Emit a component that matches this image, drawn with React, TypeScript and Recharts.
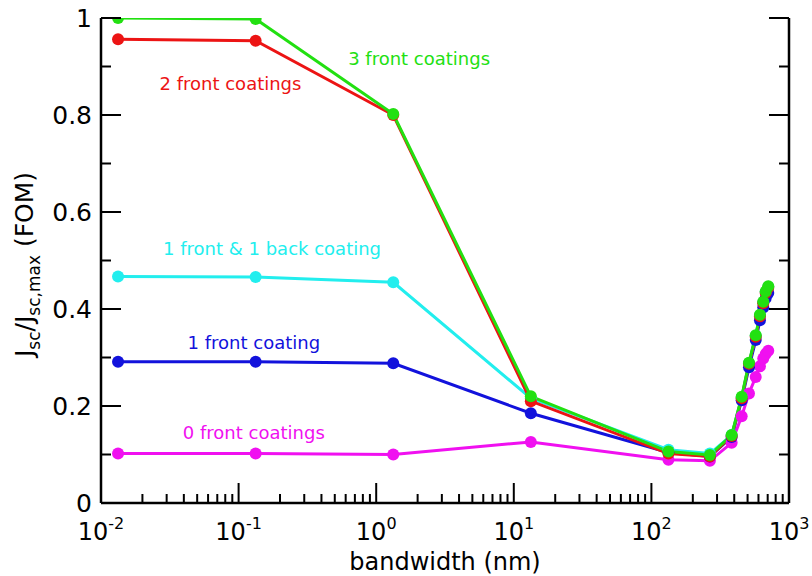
import { LineChart, Line, XAxis, YAxis, ReferenceDot } from "recharts";

// bandwidth (nm)
const bandwidth = [0.0133, 0.133, 1.33, 13.3, 133, 266, 383, 453, 512, 573, 615, 650, 677, 707];

const front0 = [0.102, 0.102, 0.100, 0.126, 0.089, 0.087, 0.124, 0.179, 0.226, 0.260, 0.282, 0.298, 0.307, 0.314];
const front1 = [0.291, 0.291, 0.288, 0.185, 0.104, 0.096, 0.136, 0.212, 0.280, 0.336, 0.377, 0.403, 0.422, 0.433];
const front1back1 = [0.467, 0.466, 0.455, 0.216, 0.110, 0.102, 0.140, 0.218, 0.288, 0.345, 0.387, 0.414, 0.435, 0.446];
const front2 = [0.956, 0.953, 0.800, 0.210, 0.102, 0.096, 0.138, 0.216, 0.287, 0.343, 0.385, 0.412, 0.433, 0.444];
const front3 = [1.0, 0.998, 0.802, 0.220, 0.106, 0.099, 0.140, 0.219, 0.289, 0.346, 0.388, 0.415, 0.436, 0.447];

const xMajor = [0.01, 0.1, 1, 10, 100, 1000];
const xMinorMult = [2, 3, 4, 5, 6, 7, 8, 9];
const yTicks = [0, 0.1, 0.2, 0.3, 0.4, 0.5, 0.6, 0.7, 0.8, 0.9, 1];
const yLabels: Record<string, string> = { "0": "0", "0.2": "0.2", "0.4": "0.4", "0.6": "0.6", "0.8": "0.8", "1": "1" };

const series = [
  { key: "f0", name: "0 front coatings", values: front0, color: "#f010f0", lx: 0.129, ly: 0.145 },
  { key: "f1", name: "1 front coating", values: front1, color: "#1212dc", lx: 0.129, ly: 0.33 },
  { key: "f1b1", name: "1 front & 1 back coating", values: front1back1, color: "#22eeee", lx: 0.175, ly: 0.524 },
  { key: "f2", name: "2 front coatings", values: front2, color: "#ec1414", lx: 0.0873, ly: 0.865 },
  { key: "f3", name: "3 front coatings", values: front3, color: "#22e011", lx: 2.05, ly: 0.917 },
];

const data = bandwidth.map((b, i) => {
  const row: Record<string, number> = { bw: b };
  series.forEach(s => { row[s.key] = s.values[i]; });
  return row;
});

const xTicks = [
  ...xMajor,
  ...xMajor.slice(0, -1).flatMap(d => xMinorMult.map(m => +(d * m).toPrecision(3))),
].sort((a, b) => a - b);

const FONT = "'DejaVu Sans', sans-serif";
const AX = "#000";

const isMajorX = (v: number) => Math.abs(Math.log10(v) - Math.round(Math.log10(v))) < 1e-6;
const isMajorY = (v: number) => yLabels[String(+v.toFixed(2))] !== undefined;

const BottomTick = (p: any) => {
  const { x, y, payload } = p;
  const v = payload.value;
  const major = isMajorX(v);
  return (
    <g>
      <line x1={x} y1={y} x2={x} y2={y - (major ? 20 : 9)} stroke={AX} strokeWidth={2} />
      {major && (
        <text x={x} y={y + 37} textAnchor="middle" fontFamily={FONT} fontSize={24} fill="#000">
          <tspan>10</tspan>
          <tspan dy={-11} fontSize={16}>{Math.round(Math.log10(v))}</tspan>
        </text>
      )}
    </g>
  );
};

const TopTick = (p: any) => {
  const { x, y, payload } = p;
  const major = isMajorX(payload.value);
  return <line x1={x} y1={y} x2={x} y2={y + (major ? 20 : 9)} stroke={AX} strokeWidth={2} />;
};

const LeftTick = (p: any) => {
  const { x, y, payload } = p;
  const v = payload.value;
  const major = isMajorY(v);
  return (
    <g>
      <line x1={x} y1={y} x2={x + (major ? 20 : 10)} y2={y} stroke={AX} strokeWidth={2} />
      {major && (
        <text x={x - 9} y={y + 9} textAnchor="end" fontFamily={FONT} fontSize={25} fill="#000">
          {yLabels[String(+v.toFixed(2))]}
        </text>
      )}
    </g>
  );
};

const RightTick = (p: any) => {
  const { x, y, payload } = p;
  const major = isMajorY(payload.value);
  return <line x1={x} y1={y} x2={x - (major ? 20 : 10)} y2={y} stroke={AX} strokeWidth={2} />;
};

const YTitle = (p: any) => {
  const vb = p.viewBox;
  const cx = vb.x + 33;
  const cy = vb.y + vb.height / 2 + 4;
  return (
    <text transform={`translate(${cx},${cy}) rotate(-90)`} textAnchor="middle" fontFamily={FONT} fontSize={25} fill="#000">
      <tspan>J</tspan>
      <tspan fontSize={17} dy={7}>sc</tspan>
      <tspan dy={-7}>/J</tspan>
      <tspan fontSize={17} dy={7}>sc,max</tspan>
      <tspan dy={-7}> (FOM)</tspan>
    </text>
  );
};

export default function App() {
  return (
    <div style={{ position: "absolute", left: 0, top: 0, width: 812, height: 576, background: "#fff" }}>
      <LineChart width={812} height={576} data={data} margin={{ top: 18, right: 0, bottom: 0, left: 0 }}>
        <XAxis
          dataKey="bw" type="number" scale="log" domain={[0.01, 1000]} allowDataOverflow
          ticks={xTicks} interval={0} tick={<BottomTick />} tickLine={false} tickSize={0} tickMargin={0}
          axisLine={{ stroke: AX, strokeWidth: 2.5 }} height={73}
          label={{ value: "bandwidth (nm)", position: "insideBottom", offset: 6, fontFamily: FONT, fontSize: 24, fill: "#000" }}
        />
        <XAxis
          xAxisId="top" orientation="top" dataKey="bw" type="number" scale="log" domain={[0.01, 1000]} allowDataOverflow
          ticks={xTicks} interval={0} tick={<TopTick />} tickLine={false} tickSize={0} tickMargin={0}
          axisLine={{ stroke: AX, strokeWidth: 2.5 }} height={0}
        />
        <YAxis
          type="number" domain={[0, 1]} ticks={yTicks} interval={0} allowDataOverflow
          tick={<LeftTick />} tickLine={false} tickSize={0} tickMargin={0}
          axisLine={{ stroke: AX, strokeWidth: 2.5 }} width={101}
          label={{ content: <YTitle /> }}
        />
        <YAxis
          yAxisId="right" orientation="right" type="number" domain={[0, 1]} ticks={yTicks} interval={0} allowDataOverflow
          tick={<RightTick />} tickLine={false} tickSize={0} tickMargin={0}
          axisLine={{ stroke: AX, strokeWidth: 2.5 }} width={23}
        />
        {series.map(s => (
          <Line
            key={s.key} dataKey={s.key} type="linear" stroke={s.color} strokeWidth={3}
            dot={{ r: 6, fill: s.color, stroke: s.color, strokeWidth: 0 }}
            isAnimationActive={false}
          />
        ))}
        {series.map(s => (
          <ReferenceDot
            key={"lab" + s.key} x={s.lx} y={s.ly} r={0} stroke="none" fill="none"
            label={{ value: s.name, position: "center", fill: s.color, fontFamily: FONT, fontSize: 18 }}
          />
        ))}
      </LineChart>
    </div>
  );
}
